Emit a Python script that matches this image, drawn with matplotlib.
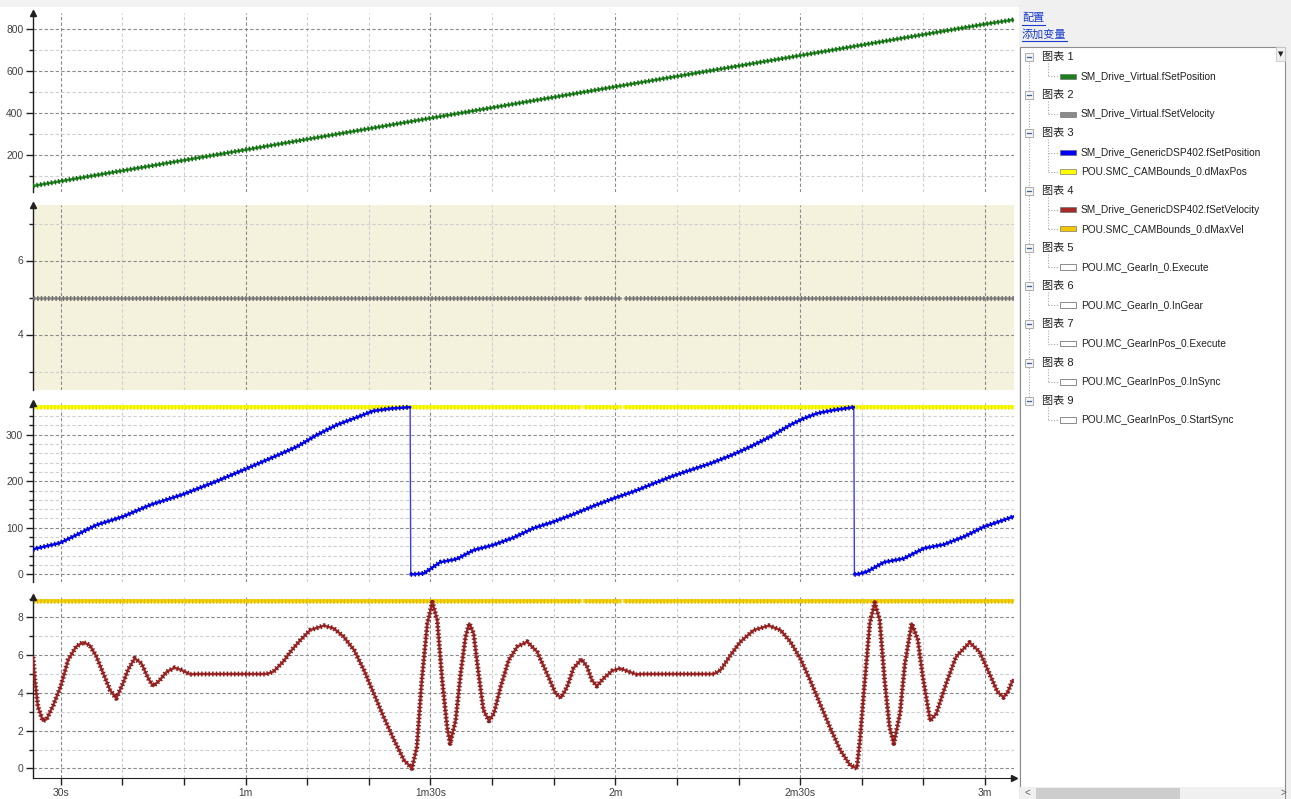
import numpy as np
import matplotlib
matplotlib.use("Agg")
import matplotlib.pyplot as plt
from matplotlib.ticker import MultipleLocator, FuncFormatter
from matplotlib.patches import Rectangle
from matplotlib.lines import Line2D

plt.rcParams['font.family'] = ['Liberation Sans', 'Noto Sans CJK SC', 'DejaVu Sans']

# ---------------- trace data ----------------
T_START, T_END = 25.5, 184.7

virt_pos_t = [25.5, 30, 60, 90, 120, 150, 180, 184.7]
virt_pos = [52, 75, 225, 376, 526, 675, 825, 846]

virt_vel_t = [25.5, 114.3, 114.7, 115.1, 120.8, 121.2, 121.6, 184.7]
virt_vel = [5.0, 5.0, np.nan, 5.0, 5.0, np.nan, 5.0, 5.0]

drive_pos_t = [25.5, 29.8, 32.0, 35.8, 40.1, 44.5, 49.9, 55.3, 59.6, 64.0, 68.3,
               71.5, 74.8, 78.6, 80.7, 83.5, 86.7, 86.8, 87.2, 88.9, 91.6, 94.3,
               97.0, 100.2, 103.5, 106.7, 110.0, 113.2, 116.5, 119.7, 123.0,
               126.2, 129.5, 132.2, 135.4, 138.7, 141.9, 145.2, 148.4, 150.6,
               152.8, 155.5, 157.7, 158.7, 158.8, 159.3, 160.9, 163.6, 166.8,
               170.1, 173.3, 176.6, 179.8, 183.1, 184.6]
drive_pos = [54, 67, 81, 106, 124, 149, 172, 200, 224, 249, 274,
             299, 321, 340, 351, 356, 359, 0, 0, 2, 26, 33,
             52, 63, 79, 99, 113, 129, 147, 163, 178,
             195, 212, 224, 238, 255, 274, 296, 321, 335,
             346, 353, 357, 359, 0, 0, 6, 26, 34,
             56, 64, 81, 102, 117, 124]

max_pos_t = virt_vel_t
max_pos = [360, 360, np.nan, 360, 360, np.nan, 360, 360]

drive_vel_t = [25.5, 25.8, 26.3, 27.1, 27.7, 28.8, 30.0, 31.2, 32.5, 33.6, 34.7,
               35.8, 36.9, 38.0, 39.0, 40.1, 40.9, 42.0, 43.1, 44.2, 45.0,
               46.1, 47.2, 48.5, 49.6, 51.0, 52.0, 63.4, 64.5, 66.1, 67.5,
               68.9, 70.5, 72.7, 74.3, 75.9, 77.6, 79.2, 80.8, 82.4, 84.1,
               85.7, 87.0, 87.8, 88.6, 89.5, 90.3, 91.1, 91.9, 92.7, 93.2,
               94.1, 94.9, 95.7, 96.3, 97.0, 97.8, 98.6, 99.5, 100.3, 101.4,
               102.7, 104.1, 105.7, 107.3, 108.9, 110.3, 111.2, 112.2, 113.2,
               114.5, 115.4, 116.2, 117.0, 118.1, 119.5, 120.8, 122.2, 123.5,
               124.5, 136.0, 137.1, 138.7, 140.3, 142.5, 144.9, 146.8, 148.4,
               150.0, 151.6, 153.2, 154.8, 156.5, 158.1, 159.2, 159.7, 160.5,
               161.3, 162.1, 162.9, 163.7, 164.5, 165.2, 166.2, 167.0, 168.1,
               169.1, 169.9, 171.1, 172.1, 173.7, 175.3, 177.5, 179.1, 180.7,
               182.0, 183.0, 183.7, 184.5]
drive_vel = [5.9, 4.7, 3.27, 2.52, 2.6, 3.35, 4.35, 5.74, 6.45, 6.68, 6.53,
             5.92, 5.03, 4.15, 3.71, 4.50, 5.21, 5.83, 5.56, 4.77, 4.36,
             4.68, 5.12, 5.33, 5.21, 4.98, 5.0, 5.0, 5.12, 5.65, 6.27,
             6.8, 7.33, 7.56, 7.42, 6.98, 6.27, 5.21, 3.97, 2.73, 1.50,
             0.44, 0.0, 1.14, 4.68, 7.68, 8.80, 7.86, 4.68, 2.2, 1.32,
             2.56, 5.03, 6.98, 7.68, 7.15, 5.03, 3.09, 2.52, 2.91, 4.33,
             5.74, 6.45, 6.71, 6.18, 5.03, 3.97, 3.74, 4.33, 5.30,
             5.79, 5.39, 4.68, 4.36, 4.77, 5.17, 5.30, 5.12, 4.98,
             5.0, 5.0, 5.21, 6.0, 6.71, 7.33, 7.56, 7.33, 6.71,
             5.83, 4.68, 3.44, 2.2, 0.97, 0.17, 0.0, 1.5, 4.68,
             7.68, 8.78, 7.86, 4.68, 2.2, 1.32, 2.91, 5.56, 7.68,
             6.8, 4.86, 2.52, 2.91, 4.50, 5.92, 6.67, 6.18, 5.03,
             4.06, 3.76, 4.06, 4.68]

max_vel_t = virt_vel_t
max_vel = [8.85, 8.85, np.nan, 8.85, 8.85, np.nan, 8.85, 8.85]

tree_groups = ['图表 1', '图表 2', '图表 3', '图表 4', '图表 5',
               '图表 6', '图表 7', '图表 8', '图表 9']
tree_members = [
    [('SM_Drive_Virtual.fSetPosition', '#1f7f1f')],
    [('SM_Drive_Virtual.fSetVelocity', '#8a8a8a')],
    [('SM_Drive_GenericDSP402.fSetPosition', '#0000ff'),
     ('POU.SMC_CAMBounds_0.dMaxPos', '#ffff00')],
    [('SM_Drive_GenericDSP402.fSetVelocity', '#a52a2a'),
     ('POU.SMC_CAMBounds_0.dMaxVel', '#f2c600')],
    [('POU.MC_GearIn_0.Execute', None)],
    [('POU.MC_GearIn_0.InGear', None)],
    [('POU.MC_GearInPos_0.Execute', None)],
    [('POU.MC_GearInPos_0.InSync', None)],
    [('POU.MC_GearInPos_0.StartSync', None)],
]

# ---------------- figure ----------------
W, H = 1291, 799
fig = plt.figure(figsize=(W / 100, H / 100), dpi=100)
fig.patch.set_facecolor('white')


def fx(x):
    return x / W


def fy(y):
    return 1 - y / H


def px_axes(x0, y0, x1, y1):
    return fig.add_axes([fx(x0), fy(y1), (x1 - x0) / W, (y1 - y0) / H])


def fmt_time(s, pos=None):
    s = int(round(s))
    m, r = divmod(s, 60)
    if m == 0:
        return f"{r}s"
    return f"{m}m" if r == 0 else f"{m}m{r}s"


def style(ax, ylim, major, minor, bottom_axis=False, face='white'):
    ax.set_facecolor(face)
    ax.set_xlim(T_START, T_END)
    ax.set_ylim(*ylim)
    ax.yaxis.set_major_locator(MultipleLocator(major))
    ax.yaxis.set_minor_locator(MultipleLocator(minor))
    ax.xaxis.set_major_locator(MultipleLocator(30))
    ax.xaxis.set_minor_locator(MultipleLocator(10))
    ax.xaxis.set_major_formatter(FuncFormatter(fmt_time))
    for s in ['top', 'right']:
        ax.spines[s].set_visible(False)
    ax.spines['left'].set_color('#202020')
    ax.spines['left'].set_linewidth(1.0)
    ax.grid(which='major', color='#8a8a8a', ls=(0, (3, 2)), lw=0.8)
    ax.grid(which='minor', color='#cfcfcf', ls=(0, (3, 2)), lw=0.8)
    ax.set_axisbelow(True)
    ax.tick_params(axis='y', which='major', direction='out', length=5, width=1,
                   color='#202020', labelcolor='#404040', labelsize=7.4, pad=2)
    ax.tick_params(axis='y', which='minor', direction='out', length=3, width=1,
                   color='#202020')
    if bottom_axis:
        ax.spines['bottom'].set_color('#202020')
        ax.tick_params(axis='x', which='both', direction='out', length=5, width=1,
                       color='#202020', labelcolor='#404040', labelsize=7.4, pad=2)
        ax.plot(1, 0, '>', color='#202020', ms=5, transform=ax.transAxes,
                clip_on=False, zorder=6)
    else:
        ax.spines['bottom'].set_visible(False)
        ax.tick_params(axis='x', which='both', bottom=False, labelbottom=False)
    ax.plot(0, 1, '^', color='#202020', ms=5, transform=ax.transAxes,
            clip_on=False, zorder=6)


def beaded(ax, t, v, color, bead, core_lw=1.8, bead_lw=3.6, z=3):
    ax.plot(t, v, color=color, lw=core_lw, zorder=z, solid_joinstyle='round')
    ax.plot(t, v, color=bead, lw=bead_lw, ls=(0, (0.28, 0.45)), zorder=z,
            dash_capstyle='butt')


# panel 1: virtual axis position
ax1 = px_axes(33, 13, 1014, 192)
style(ax1, (23.4, 878), 200, 100)
beaded(ax1, virt_pos_t, virt_pos, '#228b22', '#146414')

# panel 2: virtual axis velocity
ax2 = px_axes(33, 205, 1014, 390)
style(ax2, (2.5, 7.5), 2, 1, face='#f4f2dd')
beaded(ax2, virt_vel_t, virt_vel, '#8c8c8c', '#707070')

# panel 3: drive position and bound
ax3 = px_axes(33, 403, 1014, 582)
style(ax3, (-16.5, 368), 100, 20)
beaded(ax3, max_pos_t, max_pos, '#ffff00', '#e8e800', core_lw=2.6, bead_lw=3.4, z=2)
pt = np.array(drive_pos_t, dtype=float)
pv = np.array(drive_pos, dtype=float)
ax3.plot(pt, pv, color='#3a3aee', lw=1.0, zorder=3)
jumps = np.where(np.abs(np.diff(pv)) > 200)[0]
pt_seg = np.insert(pt, jumps + 1, np.nan)
pv_seg = np.insert(pv, jumps + 1, np.nan)
beaded(ax3, pt_seg, pv_seg, '#0000ff', '#0000c0', z=4)

# panel 4: drive velocity and bound
ax4 = px_axes(33, 597, 1014, 778)
style(ax4, (-0.51, 9.08), 2, 1, bottom_axis=True)
beaded(ax4, max_vel_t, max_vel, '#f5d200', '#e0bc00', core_lw=2.6, bead_lw=3.4, z=2)
beaded(ax4, drive_vel_t, drive_vel, '#a52a2a', '#861c1c', z=4)

# ---------------- side panel ----------------
def frect(x0, y0, x1, y1, **kw):
    r = Rectangle((fx(x0), fy(y1)), (x1 - x0) / W, (y1 - y0) / H,
                  transform=fig.transFigure, **kw)
    fig.add_artist(r)
    return r


def fline(xs, ys, **kw):
    fig.add_artist(Line2D([fx(x) for x in xs], [fy(y) for y in ys],
                          transform=fig.transFigure, **kw))


def ftext(x, y, s, **kw):
    fig.text(fx(x), fy(y), s, **kw)


frect(0, 0, 1019, 7, facecolor='#f2f2f2', edgecolor='none', zorder=0)
frect(1019, 0, W, H, facecolor='#f0f0f0', edgecolor='none', zorder=1)

ftext(1022, 18, '配置', color='#1a3ccc', fontsize=8, va='center', ha='left', zorder=3)
fline([1022, 1045], [25, 25], color='#1a3ccc', lw=0.8, zorder=3)
ftext(1022, 34, '添加变量', color='#1a3ccc', fontsize=8, va='center', ha='left', zorder=3)
fline([1022, 1067], [41, 41], color='#1a3ccc', lw=0.8, zorder=3)

frect(1019.5, 46.5, 1285, H + 5, facecolor='white', edgecolor='#8c8c8c', lw=0.8, zorder=2)

# dropdown button
frect(1276, 47, 1285, 61, facecolor='#f0f0f0', edgecolor='#c8c8c8', lw=0.6, zorder=3)
ftext(1280.5, 54, '▼', fontsize=5, ha='center', va='center', color='#202020',
      family='DejaVu Sans', zorder=4)

# horizontal scrollbar
frect(1020, 787, 1285, H + 2, facecolor='#f0f0f0', edgecolor='none', zorder=3)
frect(1036, 788, 1180, H + 2, facecolor='#cdcdcd', edgecolor='none', zorder=4)
ftext(1027, 793, '<', fontsize=7, ha='center', va='center', color='#606060', zorder=4)
ftext(1283, 793, '>', fontsize=7, ha='center', va='center', color='#606060', zorder=4)

row_h = 19.1
row = 0
group_rows = []
dot = dict(color='#a8a8a8', lw=0.8, ls=(0, (1, 1.5)), zorder=3)
for g, members in zip(tree_groups, tree_members):
    gy = 57 + row * row_h
    group_rows.append(gy)
    ftext(1042, gy, g, fontsize=8, va='center', ha='left', color='#202020', zorder=5)
    row += 1
    last = gy
    for name, col in members:
        cy = 57 + row * row_h
        fline([1048, 1059], [cy, cy], **dot)
        if col is None:
            frect(1060, cy - 3, 1076, cy + 3, facecolor='white', edgecolor='#8a8a8a',
                  lw=0.7, zorder=5)
        else:
            frect(1060, cy - 2.5, 1076, cy + 2.5, facecolor=col, edgecolor='#606060',
                  lw=0.4, zorder=5)
        ftext(1081, cy, name, fontsize=7.3, va='center', ha='left', color='#202020',
              zorder=5)
        last = cy
        row += 1
    fline([1048, 1048], [gy + 6, last], **dot)

fline([1029, 1029], [group_rows[0] + 5, group_rows[-1] - 5], **dot)
for gy in group_rows:
    frect(1025, gy - 4, 1033, gy + 4, facecolor='#f4f4f4', edgecolor='#a0a0a0',
          lw=0.6, zorder=5)
    fline([1027, 1031], [gy, gy], color='#4060a0', lw=0.9, zorder=6)

fig.savefig('out.png', dpi=100, facecolor='white')
